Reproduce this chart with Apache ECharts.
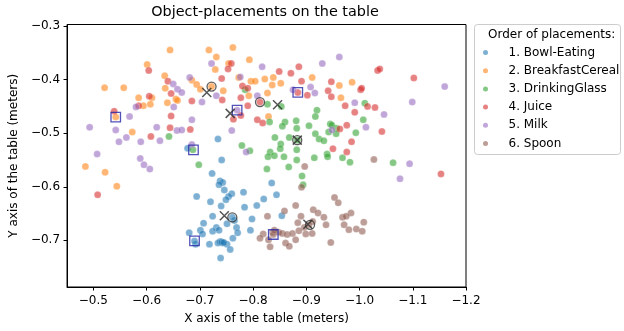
<!DOCTYPE html>
<html>
<head>
<meta charset="utf-8">
<script src="https://cdn.jsdelivr.net/npm/echarts@6/dist/echarts.min.js"></script>
<style>
  html, body { margin: 0; padding: 0; background: #fff; }
  #chart { width: 624px; height: 331px; }
</style>
</head>
<body>
<div id="chart"></div>
<script>
// Object placements on the table, [x, y] in meters
const categories = ['1. Bowl-Eating', '2. BreakfastCereal', '3. DrinkingGlass', '4. Juice', '5. Milk', '6. Spoon'];

const bowl = [
  [-0.677,-0.528],[-0.694,-0.618],[-0.680,-0.686],[-0.692,-0.707],[-0.701,-0.681],[-0.690,-0.701],
  [-0.741,-0.550],[-0.723,-0.575],[-0.738,-0.589],[-0.743,-0.592],[-0.736,-0.596],[-0.746,-0.606],
  [-0.760,-0.613],[-0.754,-0.618],[-0.749,-0.624],[-0.782,-0.610],[-0.720,-0.628],[-0.740,-0.636],
  [-0.784,-0.638],[-0.807,-0.635],[-0.820,-0.623],[-0.835,-0.593],[-0.844,-0.615],[-0.854,-0.654],
  [-0.724,-0.655],[-0.765,-0.663],[-0.761,-0.657],[-0.798,-0.660],[-0.707,-0.668],[-0.769,-0.676],
  [-0.751,-0.669],[-0.731,-0.676],[-0.724,-0.683],[-0.705,-0.688],[-0.771,-0.686],[-0.795,-0.681],
  [-0.762,-0.696],[-0.718,-0.707],[-0.738,-0.702],[-0.743,-0.705],[-0.751,-0.707],[-0.734,-0.705],
  [-0.757,-0.717],[-0.739,-0.733],[-0.734,-0.511],[-0.741,-0.703],[-0.745,-0.704],[-0.736,-0.681]
];

const cereal = [
  [-0.644,-0.345],[-0.601,-0.372],[-0.634,-0.393],[-0.685,-0.401],[-0.694,-0.409],[-0.521,-0.415],
  [-0.557,-0.415],[-0.635,-0.416],[-0.701,-0.418],[-0.585,-0.434],[-0.610,-0.434],[-0.655,-0.436],
  [-0.658,-0.439],[-0.639,-0.443],[-0.607,-0.446],[-0.594,-0.449],[-0.542,-0.470],[-0.573,-0.498],
  [-0.485,-0.562],[-0.522,-0.573],[-0.544,-0.599],
  [-0.717,-0.345],[-0.762,-0.340],[-0.731,-0.358],[-0.754,-0.370],[-0.793,-0.363],[-0.729,-0.381],
  [-0.773,-0.396],[-0.796,-0.403],[-0.804,-0.403],[-0.822,-0.399],[-0.838,-0.396],[-0.836,-0.410],
  [-0.852,-0.407],[-0.911,-0.396],[-0.744,-0.421],[-0.792,-0.430],[-0.827,-0.425],[-0.829,-0.469],
  [-0.722,-0.413],[-0.962,-0.411],[-0.986,-0.405],[-0.965,-0.434]
];

const glass = [
  [-0.642,-0.506],[-0.687,-0.531],[-0.698,-0.559],
  [-0.785,-0.419],[-0.827,-0.446],[-0.853,-0.450],[-0.831,-0.479],[-0.920,-0.457],[-0.917,-0.469],
  [-0.860,-0.479],[-0.881,-0.477],[-0.905,-0.486],[-0.855,-0.487],[-0.841,-0.508],[-0.868,-0.508],
  [-0.917,-0.501],[-0.924,-0.511],[-0.933,-0.514],[-0.942,-0.498],[-0.945,-0.483],[-0.779,-0.523],
  [-0.794,-0.533],[-0.852,-0.520],[-0.851,-0.529],[-0.882,-0.531],[-0.939,-0.539],[-0.883,-0.513],
  [-0.882,-0.491],[-0.957,-0.491],[-0.948,-0.485],[-0.832,-0.535],
  [-1.010,-0.444],[-1.007,-0.475],[-0.956,-0.501],[-0.993,-0.499],
  [-0.828,-0.544],[-0.840,-0.542],[-0.858,-0.544],[-0.882,-0.550],[-0.915,-0.546],[-0.940,-0.544],
  [-0.968,-0.546],[-0.982,-0.554],[-1.063,-0.555],[-0.826,-0.567],[-0.867,-0.563],[-0.892,-0.580],
  [-0.894,-0.596]
];

const juice = [
  [-0.604,-0.383],[-0.640,-0.403],[-0.646,-0.426],[-0.605,-0.431],[-0.685,-0.440],[-0.585,-0.449],
  [-0.539,-0.459],[-0.646,-0.468],[-0.644,-0.490],[-0.682,-0.493],[-0.608,-0.506],[-0.508,-0.615],
  [-0.759,-0.370],[-0.753,-0.380],[-0.849,-0.385],[-0.871,-0.388],[-0.886,-0.376],[-0.741,-0.398],
  [-0.891,-0.403],[-0.780,-0.412],[-0.790,-0.416],[-0.742,-0.438],[-0.777,-0.434],[-0.813,-0.442],
  [-0.790,-0.449],[-0.763,-0.474],[-0.777,-0.467],[-0.808,-0.475],[-0.818,-0.481],[-0.884,-0.424],
  [-0.902,-0.429],[-0.941,-0.421],[-0.947,-0.432],[-0.947,-0.404],
  [-1.034,-0.383],[-1.038,-0.380],[-1.102,-0.397],[-1.002,-0.419],[-1.004,-0.416],[-0.973,-0.449],
  [-1.015,-0.450],[-1.029,-0.452],[-0.991,-0.461],[-0.976,-0.485],[-0.963,-0.492],[-1.042,-0.497],
  [-0.985,-0.516],[-0.950,-0.529],[-0.976,-0.535],[-1.153,-0.576]
];

const milk = [
  [-0.681,-0.396],[-0.650,-0.408],[-0.658,-0.418],[-0.666,-0.424],[-0.704,-0.442],[-0.580,-0.451],
  [-0.651,-0.451],[-0.568,-0.469],[-0.685,-0.475],[-0.493,-0.489],[-0.542,-0.494],[-0.619,-0.489],
  [-0.657,-0.495],[-0.666,-0.494],[-0.562,-0.508],[-0.548,-0.516],[-0.589,-0.516],[-0.625,-0.514],
  [-0.507,-0.539],[-0.685,-0.521],[-0.588,-0.547],[-0.595,-0.559],[-0.606,-0.567],
  [-0.722,-0.370],[-0.817,-0.376],[-0.930,-0.370],[-0.776,-0.395],[-0.731,-0.430],[-0.808,-0.430],
  [-0.770,-0.457],[-0.760,-0.495],[-0.787,-0.535],[-0.875,-0.419],[-0.908,-0.414],[-0.916,-0.425],
  [-0.948,-0.494],[-0.962,-0.358],[-1.160,-0.413],[-0.991,-0.443],[-1.099,-0.442],[-1.046,-0.465],
  [-1.012,-0.489],[-1.094,-0.557],[-1.076,-0.585]
];

const spoon = [
  [-0.897,-0.562],[-0.891,-0.601],[-1.027,-0.549],[-0.827,-0.655],[-0.859,-0.645],[-0.880,-0.635],
  [-0.890,-0.655],[-0.884,-0.667],[-0.896,-0.676],[-0.912,-0.665],[-0.913,-0.643],[-0.922,-0.649],
  [-0.933,-0.657],[-0.937,-0.671],[-0.905,-0.671],[-0.953,-0.620],[-0.960,-0.630],[-0.984,-0.649],
  [-0.968,-0.657],[-0.975,-0.655],[-1.008,-0.666],[-0.971,-0.671],[-0.980,-0.680],[-0.994,-0.679],
  [-1.005,-0.683],[-0.946,-0.704],[-0.819,-0.688],[-0.813,-0.696],[-0.837,-0.685],[-0.838,-0.689],
  [-0.848,-0.685],[-0.855,-0.687],[-0.864,-0.689],[-0.874,-0.687],[-0.886,-0.682],[-0.899,-0.688],
  [-0.911,-0.687],[-0.861,-0.705],[-0.880,-0.699],[-0.832,-0.712],[-0.868,-0.711],[-0.829,-0.699],
  [-0.840,-0.681]
];

// Reference positions per object
const squareMarks = [[-0.542,-0.470],[-0.688,-0.531],[-0.770,-0.457],[-0.884,-0.424],[-0.690,-0.701],[-0.838,-0.689]];
const crossMarks  = [[-0.713,-0.424],[-0.757,-0.463],[-0.846,-0.447],[-0.883,-0.513],[-0.746,-0.654],[-0.903,-0.670]];
const ringMarks   = [[-0.722,-0.413],[-0.813,-0.442],[-0.883,-0.513],[-0.761,-0.657],[-0.907,-0.671]];

// Axis ranges and tick labels
const xRange = [-1.2, -0.4505];
const yRange = [-0.787, -0.2972];
const xTicks = [-0.5, -0.6, -0.7, -0.8, -0.9, -1.0, -1.1, -1.2];
const yTicks = [-0.3, -0.4, -0.5, -0.6, -0.7];

const palette = ['#1f77b4', '#ff7f0e', '#2ca02c', '#d62728', '#9467bd', '#8c564b'];
const groups = [bowl, cereal, glass, juice, milk, spoon];
const FONT = 'DejaVu Sans';

const fmt = v => (v < 0 ? '\u2212' : '') + Math.abs(v).toFixed(1);

const pointSeries = groups.map((pts, i) => ({
  name: categories[i],
  type: 'scatter',
  data: pts,
  symbol: 'circle',
  symbolSize: 7,
  itemStyle: { color: palette[i], opacity: 0.58, borderColor: '#fff', borderWidth: 0.4 },
  emphasis: { disabled: true },
  z: 2
}));

const markerSeries = [
  {
    type: 'scatter', data: squareMarks, symbol: 'rect', symbolSize: 9.5,
    itemStyle: { color: 'rgba(0,0,0,0)', borderColor: '#2626a6', borderWidth: 1.3 },
    emphasis: { disabled: true }, silent: true, z: 3
  },
  {
    type: 'scatter', data: crossMarks, symbol: 'path://M0,0L10,10M10,0L0,10', symbolSize: 9,
    itemStyle: { color: 'rgba(0,0,0,0)', borderColor: '#2a2a2a', borderWidth: 1.5 },
    emphasis: { disabled: true }, silent: true, z: 4
  },
  {
    type: 'scatter', data: ringMarks, symbol: 'circle', symbolSize: 9,
    itemStyle: { color: 'rgba(0,0,0,0)', borderColor: '#333', borderWidth: 1.3 },
    emphasis: { disabled: true }, silent: true, z: 4
  }
];

const chart = echarts.init(document.getElementById('chart'), null, { renderer: 'canvas' });

chart.setOption({
  animation: false,
  backgroundColor: '#fff',
  textStyle: { fontFamily: FONT },
  title: {
    text: 'Object-placements on the table',
    left: 265, top: 5, padding: 0, textAlign: 'center',
    textStyle: { fontFamily: FONT, fontSize: 14.4, fontWeight: 'normal', color: '#000' }
  },
  grid: {
    left: 64.5, right: 158, top: 24.5, bottom: 44,
    show: true, borderColor: '#000', borderWidth: 1, backgroundColor: 'transparent'
  },
  xAxis: {
    type: 'value', min: xRange[0], max: xRange[1], inverse: true,
    name: 'X axis of the table (meters)', nameLocation: 'middle', nameGap: 26,
    nameTextStyle: { fontFamily: FONT, fontSize: 12, color: '#000' },
    axisLine: { show: true, lineStyle: { color: '#000', width: 1 } },
    axisTick: { show: true, customValues: xTicks, length: 3.5, lineStyle: { color: '#000', width: 1 } },
    axisLabel: { customValues: xTicks, formatter: fmt, margin: 7.5, fontFamily: FONT, fontSize: 12, color: '#000' },
    splitLine: { show: false }
  },
  yAxis: {
    type: 'value', min: yRange[0], max: yRange[1],
    name: 'Y axis of the table (meters)', nameLocation: 'middle', nameGap: 43,
    nameTextStyle: { fontFamily: FONT, fontSize: 12, color: '#000' },
    axisLine: { show: true, lineStyle: { color: '#000', width: 1 } },
    axisTick: { show: true, customValues: yTicks, length: 3.5, lineStyle: { color: '#000', width: 1 } },
    axisLabel: { customValues: yTicks, formatter: fmt, margin: 7, fontFamily: FONT, fontSize: 12, color: '#000' },
    splitLine: { show: false }
  },
  legend: {
    data: categories,
    orient: 'vertical',
    left: 483, top: 45.5, padding: 0,
    itemWidth: 12, itemHeight: 5, itemGap: 4.2,
    icon: 'circle',
    itemStyle: { opacity: 0.58, borderWidth: 0 },
    textStyle: { fontFamily: FONT, fontSize: 12, color: '#000', lineHeight: 14, padding: [0, 0, 0, 12] },
    selectedMode: false
  },
  graphic: [
    {
      type: 'rect', left: 474, top: 24, z: 0,
      shape: { width: 146, height: 130, r: 3 },
      style: { fill: 'rgba(255,255,255,0.8)', stroke: '#cccccc', lineWidth: 1 }
    },
    {
      type: 'text', left: 488, top: 29, z: 1,
      style: { text: 'Order of placements:', fill: '#000', font: '12px "DejaVu Sans"' }
    }
  ],
  series: pointSeries.concat(markerSeries)
});
</script>
</body>
</html>
